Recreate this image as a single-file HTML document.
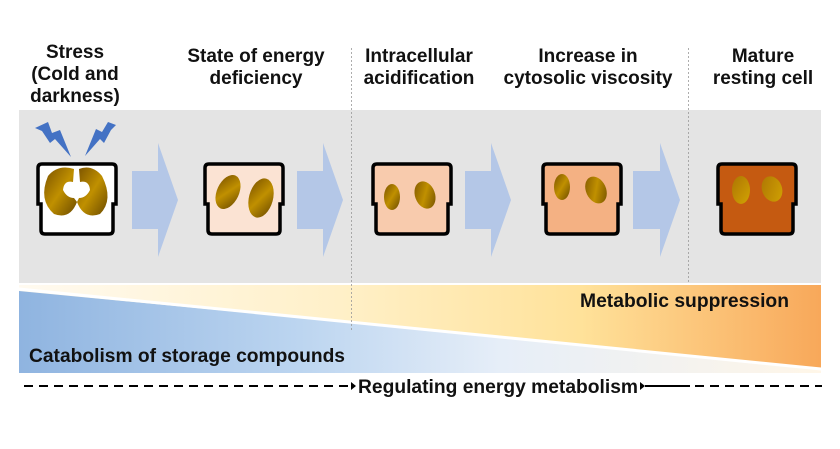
<!DOCTYPE html>
<html><head><meta charset="utf-8"><style>
html,body{margin:0;padding:0;background:#fff;}
svg{display:block;}
text{font-family:"Liberation Sans",Arial,sans-serif;font-weight:bold;fill:#111;}
</style></head><body>
<svg width="840" height="449" viewBox="0 0 840 449" xmlns="http://www.w3.org/2000/svg">
<defs>
<linearGradient id="blue" x1="0" y1="0" x2="1" y2="0">
<stop offset="0" stop-color="#8fb4e0"/><stop offset="0.35" stop-color="#bcd5f0"/><stop offset="0.6" stop-color="#e6eef8"/><stop offset="1" stop-color="#fff6e8"/></linearGradient>
<linearGradient id="orange" x1="0" y1="0" x2="1" y2="0">
<stop offset="0" stop-color="#fffaf0"/><stop offset="0.4" stop-color="#fff0c8"/><stop offset="0.7" stop-color="#ffe29a"/><stop offset="1" stop-color="#f8a85a"/></linearGradient>
<linearGradient id="org" x1="0" y1="0" x2="1" y2="1">
<stop offset="0" stop-color="#7a5200"/><stop offset="0.5" stop-color="#c09000"/><stop offset="1" stop-color="#6b4a00"/></linearGradient>
<linearGradient id="org2" x1="0" y1="0" x2="1" y2="1">
<stop offset="0" stop-color="#a87a00"/><stop offset="1" stop-color="#d4b000"/></linearGradient>
<path id="cell" d="M4,0 H74 Q78,0 78,4 V40 H75 V66 Q75,70 71,70 H7 Q3,70 3,66 V40 H0 V4 Q0,0 4,0 Z"/>
</defs>
<rect x="19" y="110" width="802" height="173" fill="#e4e4e4"/>
<rect x="19" y="285" width="802" height="88" fill="url(#orange)"/>
<polygon points="19,291 821,368 821,373 19,373" fill="url(#blue)"/>
<line x1="19" y1="289" x2="821" y2="369" stroke="#fff" stroke-width="3"/>
<line x1="351.5" y1="48" x2="351.5" y2="330" stroke="#999" stroke-width="0.8" stroke-dasharray="2,2"/>
<line x1="688.5" y1="48" x2="688.5" y2="283" stroke="#999" stroke-width="0.8" stroke-dasharray="2,2"/>
<g font-size="19" text-anchor="middle">
<text x="75" y="58">Stress</text><text x="75" y="80">(Cold and</text><text x="75" y="102">darkness)</text>
<text x="256" y="62">State of energy</text><text x="256" y="84">deficiency</text>
<text x="419" y="62">Intracellular</text><text x="419" y="84">acidification</text>
<text x="588" y="62">Increase in</text><text x="588" y="84">cytosolic viscosity</text>
<text x="763" y="62">Mature</text><text x="763" y="84">resting cell</text>
</g>
<g fill="#b4c7e7">
<polygon points="132,171 158,171 158,143 178,200 158,257 158,229 132,229"/>
<polygon points="297,171 323,171 323,143 343,200 323,257 323,229 297,229"/>
<polygon points="465,171 491,171 491,143 511,200 491,257 491,229 465,229"/>
<polygon points="633,171 660,171 660,143 680,200 660,257 660,229 633,229"/>
</g>
<g fill="#4472c4">
<polygon points="35,128 48,122 52,133 60,130 71,157 55,139 50,143 42,131"/>
<polygon points="116,125 108,122 102,132 96,129 85,156 100,139 104,143 111,130"/>
</g>
<use href="#cell" x="38" y="164" fill="#fff" stroke="#000" stroke-width="3.5"/>
<path d="M48,176 Q58,164 74,169 L73,182 Q64,180 63,190 Q67,198 74,198 L77,202 Q70,220 54,214 Q38,200 48,176 Z" fill="url(#org)"/>
<path d="M102,176 Q92,164 79,169 L80,182 Q89,180 90,190 Q86,198 79,198 L77,202 Q84,220 100,214 Q114,200 102,176 Z" fill="url(#org)"/>
<use href="#cell" x="205" y="164" fill="#fbe3d3" stroke="#000" stroke-width="3.5"/>
<ellipse cx="228" cy="192" rx="11" ry="18" transform="rotate(25 228 192)" fill="url(#org)"/>
<ellipse cx="261" cy="198" rx="12" ry="20" transform="rotate(15 261 198)" fill="url(#org)"/>
<use href="#cell" x="373" y="164" fill="#f8cbad" stroke="#000" stroke-width="3.5"/>
<ellipse cx="392" cy="197" rx="8" ry="13" fill="url(#org)"/>
<ellipse cx="425" cy="195" rx="10" ry="14" transform="rotate(-20 425 195)" fill="url(#org)"/>
<use href="#cell" x="543" y="164" fill="#f4b183" stroke="#000" stroke-width="3.5"/>
<ellipse cx="562" cy="187" rx="8" ry="13" fill="url(#org)"/>
<ellipse cx="596" cy="190" rx="10" ry="14" transform="rotate(-25 596 190)" fill="url(#org)"/>
<use href="#cell" x="718" y="164" fill="#c55a11" stroke="#000" stroke-width="3.5"/>
<ellipse cx="741" cy="190" rx="9" ry="14" fill="url(#org2)" opacity="0.85"/>
<ellipse cx="772" cy="189" rx="10" ry="13" transform="rotate(-20 772 189)" fill="url(#org2)" opacity="0.85"/>
<text x="580" y="307" font-size="19" textLength="209" lengthAdjust="spacingAndGlyphs">Metabolic suppression</text>
<text x="29" y="362" font-size="19" textLength="316" lengthAdjust="spacingAndGlyphs">Catabolism of storage compounds</text>
<line x1="24" y1="386" x2="350" y2="386" stroke="#000" stroke-width="2" stroke-dasharray="9,6"/>
<polygon points="351,382 356,386 351,390" fill="#000"/>
<text x="358" y="393" font-size="19" textLength="280" lengthAdjust="spacingAndGlyphs">Regulating energy metabolism</text>
<polygon points="640,382 645,386 640,390" fill="#000"/>
<line x1="645" y1="386" x2="690" y2="386" stroke="#000" stroke-width="2"/>
<line x1="695" y1="386" x2="822" y2="386" stroke="#000" stroke-width="2" stroke-dasharray="9,6"/>
</svg>
</body></html>
